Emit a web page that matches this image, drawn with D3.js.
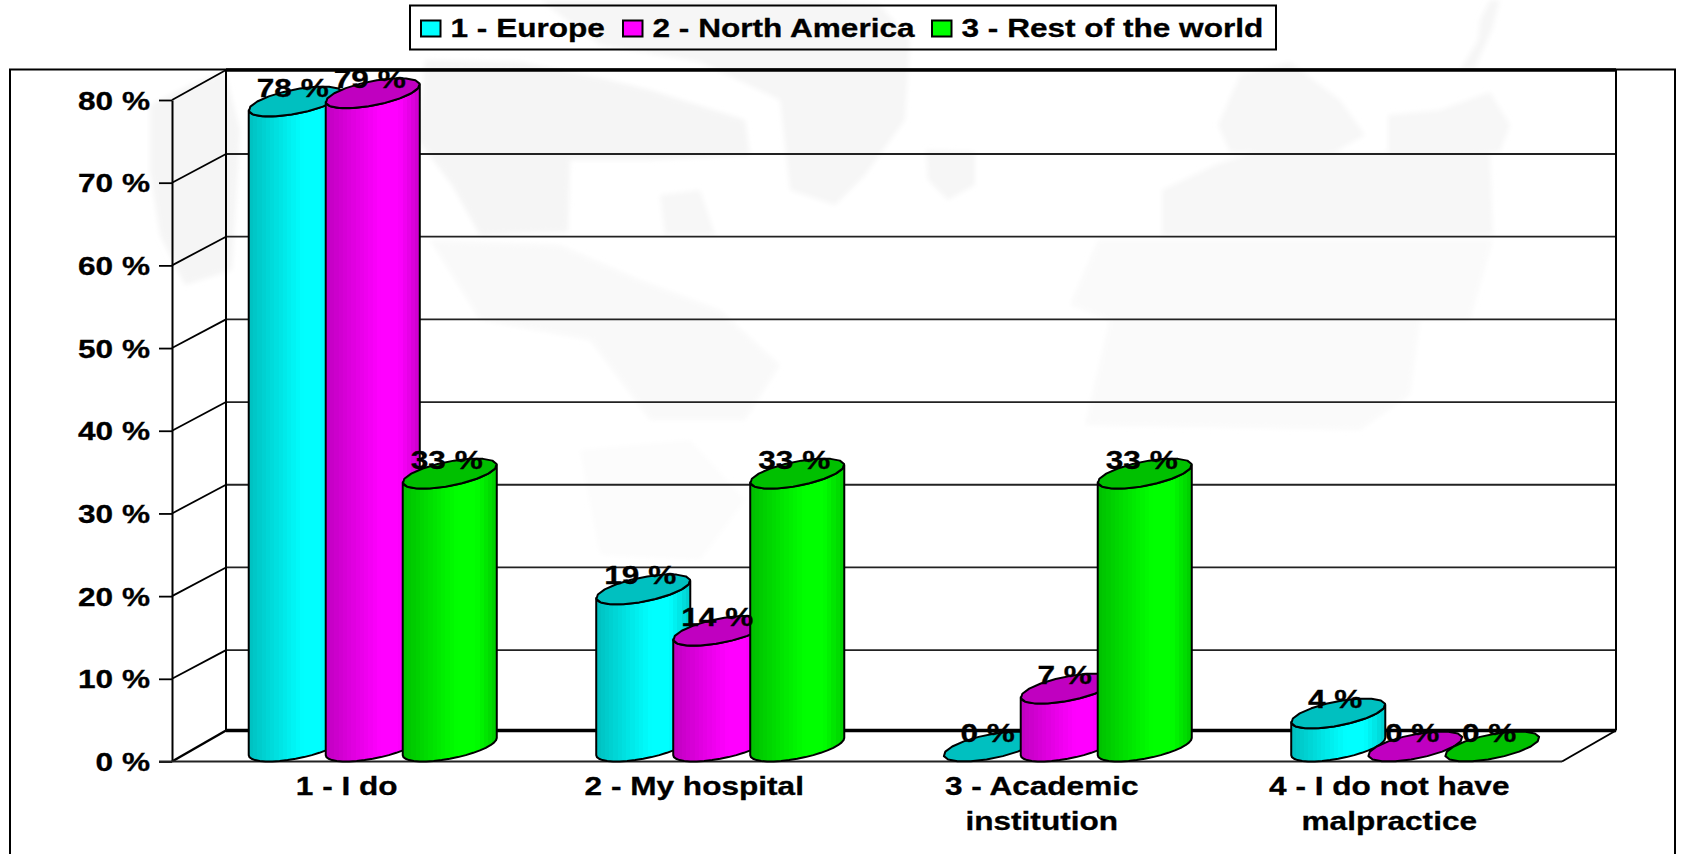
<!DOCTYPE html>
<html>
<head>
<meta charset="utf-8">
<style>
html,body{margin:0;padding:0;background:#fff;overflow:hidden}
svg{display:block}
text{font-family:"Liberation Sans",Arial,sans-serif;font-weight:700;font-size:26px;fill:#000;stroke:#000;stroke-width:0.3px}
</style>
<script src="https://cdn.jsdelivr.net/npm/d3@7"></script>
</head>
<body>
<svg id="c" width="1681" height="854"></svg>
<script>
const categories = ["1 - I do","2 - My hospital","3 - Academic institution","4 - I do not have malpractice"];
const categoryLines = [["1 - I do"],["2 - My hospital"],["3 - Academic","institution"],["4 - I do not have","malpractice"]];
const seriesNames = ["1 - Europe","2 - North America","3 - Rest of the world"];
const europe = [78,19,0,4];
const northAmerica = [79,14,7,0];
const restOfWorld = [33,33,33,0];
const yTicks = [0,10,20,30,40,50,60,70,80];
const seriesValues = [europe,northAmerica,restOfWorld];
const bright = ["#00ffff","#ff00ff","#00ff00"];
const dark = ["#00c0c0","#c000c0","#00c000"];

const mapShapes = [
 ["#f5f5f5",[[150,105],[190,85],[225,72],[240,130],[232,270],[185,285],[160,235],[150,170]]],
 ["#f5f5f5",[[425,60],[520,62],[600,78],[650,90],[745,120],[750,155],[650,160],[570,160],[568,232],[480,235],[452,185],[418,140]]],
 ["#f6f6f6",[[540,0],[820,0],[880,5],[910,40],[905,120],[865,175],[835,205],[790,190],[780,100],[700,62],[600,45]]],
 ["#f7f7f7",[[660,195],[700,190],[715,235],[665,235]]],
 ["#f9f9f9",[[430,240],[560,245],[640,280],[720,310],[780,365],[745,420],[650,420],[590,340],[480,320]]],
 ["#f6f6f6",[[926,150],[975,152],[975,185],[948,200],[928,180]]],
 ["#f7f7f7",[[1240,75],[1290,62],[1340,100],[1365,135],[1335,152],[1230,152],[1218,125]]],
 ["#f7f7f7",[[1388,115],[1440,110],[1490,92],[1510,125],[1500,152],[1388,153]]],
 ["#f7f7f7",[[1162,190],[1215,165],[1252,153],[1490,153],[1493,235],[1162,235]]],
 ["#fafafa",[[1098,240],[1493,240],[1470,320],[1420,320],[1410,395],[1360,430],[1085,425],[1110,320],[1070,305]]],
 ["#f6f6f6",[[1460,70],[1478,40],[1480,20],[1490,0],[1500,0],[1492,30],[1475,68]]],
 ["#fcfcfc",[[580,450],[690,440],[745,500],[700,560],[600,555]]]
];

const svg = d3.select("#c");
const STRETCH = 1.215;
const stretched = (x,y)=>`translate(${x},${y}) scale(${STRETCH},1)`;

// wall and depth geometry
const plotLeft = 172, plotRight = 1562, floorY = 761.5, depthX = 54, depthY = 31, innerDepthY = 28.7;
const y = d3.scaleLinear().domain([0,80]).range([floorY,100]);
const x = d3.scaleBand().domain(categories).range([plotLeft,plotRight]).paddingInner(0).paddingOuter(0);
const slotW = 77, capDX = 54, capDY = 30;
const xSeries = d3.scaleBand().domain(d3.range(3)).range([0,slotW*3]);

const defs = svg.append("defs");
defs.append("filter").attr("id","soft").attr("x","-10%").attr("y","-10%").attr("width","120%").attr("height","120%")
  .append("feGaussianBlur").attr("stdDeviation",2.5);

// background map
const mapG = svg.append("g").attr("filter","url(#soft)");
mapShapes.forEach(([fill,pts])=>mapG.append("path").attr("d",d3.line().curve(d3.curveLinearClosed)(pts)).attr("fill",fill));

// frame
svg.append("rect").attr("x",10).attr("y",69.5).attr("width",1665).attr("height",900)
  .attr("fill","none").attr("stroke","#000").attr("stroke-width",2);

// gradients
bright.forEach((c,i)=>{
  const g = defs.append("linearGradient").attr("id","g"+i).attr("x1",0).attr("x2",1).attr("y1",0).attr("y2",0);
  const shade = d3.scaleLinear().domain([0,0.58,0.78,1]).range([dark[i],c,c,dark[i]==="#00c000"?"#00cc00":d3.interpolateRgb(dark[i],c)(0.2)]);
  const n = 22;
  d3.range(n).forEach(k=>{
    const col = shade((k+0.5)/n);
    g.append("stop").attr("offset",k/n).attr("stop-color",col);
    g.append("stop").attr("offset",(k+1)/n).attr("stop-color",col);
  });
});

// grid on back wall + walls
const wall = svg.append("g").attr("stroke","#000").attr("fill","none");
yTicks.forEach(t=>{
  const edge = t===0||t===80;
  const yy = y(t)-(edge?(t===0?depthY:30):innerDepthY);
  wall.append("line").attr("x1",plotLeft+depthX).attr("x2",plotRight+depthX).attr("y1",yy).attr("y2",yy)
    .attr("stroke-width",edge?3.5:1.8).attr("stroke",edge?"#000":"#222");
  wall.append("line").attr("x1",plotLeft).attr("x2",plotLeft+depthX).attr("y1",y(t)).attr("y2",yy).attr("stroke-width",t===0?2.5:1.8);
});
wall.append("line").attr("x1",plotLeft+depthX).attr("x2",plotLeft+depthX).attr("y1",y(80)-30).attr("y2",floorY-depthY).attr("stroke-width",2);
wall.append("line").attr("x1",plotRight+depthX).attr("x2",plotRight+depthX).attr("y1",y(80)-30).attr("y2",floorY-depthY).attr("stroke-width",2);
wall.append("line").attr("x1",plotRight).attr("x2",plotRight+depthX).attr("y1",floorY).attr("y2",floorY-depthY).attr("stroke-width",2);

// y axis
const yAxis = svg.append("g").attr("transform",`translate(${plotLeft},0)`)
  .call(d3.axisLeft(y).tickValues(yTicks).tickSize(13).tickSizeOuter(0).tickFormat(d=>d+" %"));
yAxis.select(".domain").attr("stroke","#000").attr("stroke-width",2);
yAxis.selectAll(".tick line").attr("stroke","#000").attr("stroke-width",1.8);
yAxis.selectAll(".tick text").attr("x",null).attr("dy",null).attr("text-anchor","end")
  .attr("transform",stretched(-22,9)).style("font-size","26px").style("font-family",'"Liberation Sans",Arial,sans-serif');

// x axis
const xAxis = svg.append("g").attr("transform",`translate(0,${floorY})`)
  .call(d3.axisBottom(x).tickSize(0).tickSizeOuter(0));
xAxis.select(".domain").remove();
xAxis.append("line").attr("x1",159).attr("x2",plotRight).attr("stroke","#222").attr("stroke-width",2);
xAxis.selectAll(".tick text").each(function(d,i){
  const t = d3.select(this).text(null).attr("y",null).attr("dy",null).attr("text-anchor","middle")
    .attr("transform",stretched(1,33)).style("font-size","26px").style("font-family",'"Liberation Sans",Arial,sans-serif');
  categoryLines[i].forEach((line,k)=>t.append("tspan").attr("x",0).attr("y",k*36).text(line));
});

// cylinders
function capPoint(cx,cy,a){
  return [cx+Math.cos(a)*slotW/2+Math.sin(a)*capDX/2, cy-Math.sin(a)*capDY/2];
}
const capCenter = (x0,yy)=>[x0+(slotW+capDX)/2, yy-capDY/2];
const N = 18;
const extreme = Math.atan2(capDX,slotW);
function arc(cx,cy,from,to){
  return d3.range(N+1).map(k=>capPoint(cx,cy,from+(to-from)*k/N));
}
const bars = svg.append("g");
const line = d3.line();
seriesValues.forEach((vals,s)=>{
  categories.forEach((c,ci)=>{
    const v = vals[ci];
    const band0 = x(c)+(x.bandwidth()-slotW*3)/2;
    const x0 = band0+xSeries(s);
    const top = y(v), bot = y(0);
    const [cx,cyT] = capCenter(x0,top);
    const cyB = capCenter(x0,bot)[1];
    const g = bars.append("g");
    if(v>0){
      const lowerTop = arc(cx,cyT,extreme-Math.PI,extreme);
      const lowerBot = arc(cx,cyB,extreme,extreme-Math.PI);
      g.append("path").attr("d",line(lowerTop.concat(lowerBot))+"Z")
        .attr("fill",`url(#g${s})`).attr("stroke","#000").attr("stroke-width",2).attr("stroke-linejoin","round");
    }
    g.append("path").attr("d",line(arc(cx,cyT,0,Math.PI*2))+"Z")
      .attr("fill",dark[s]).attr("stroke","#000").attr("stroke-width",2).attr("stroke-linejoin","round");
  });
});

// value labels
const labels = svg.append("g");
seriesValues.forEach((vals,s)=>{
  categories.forEach((c,ci)=>{
    const band0 = x(c)+(x.bandwidth()-slotW*3)/2;
    const cx = band0+xSeries(s)+(slotW+capDX)/2-3;
    labels.append("text").attr("text-anchor","middle")
      .attr("transform",stretched(cx,y(vals[ci])-20)).text(vals[ci]+" %");
  });
});

// legend
const legend = svg.append("g");
legend.append("rect").attr("x",410).attr("y",5.5).attr("width",866).attr("height",44)
  .attr("fill","none").attr("stroke","#000").attr("stroke-width",2);
const swatchX = d3.scaleOrdinal().domain(d3.range(3)).range([421,623,932]);
seriesNames.forEach((n,i)=>{
  legend.append("rect").attr("x",swatchX(i)).attr("y",20.5).attr("width",19.5).attr("height",16)
    .attr("fill",bright[i]).attr("stroke","#000").attr("stroke-width",2);
  legend.append("text").attr("transform",stretched(swatchX(i)+29.5,37)).text(n);
});
</script>
</body>
</html>
